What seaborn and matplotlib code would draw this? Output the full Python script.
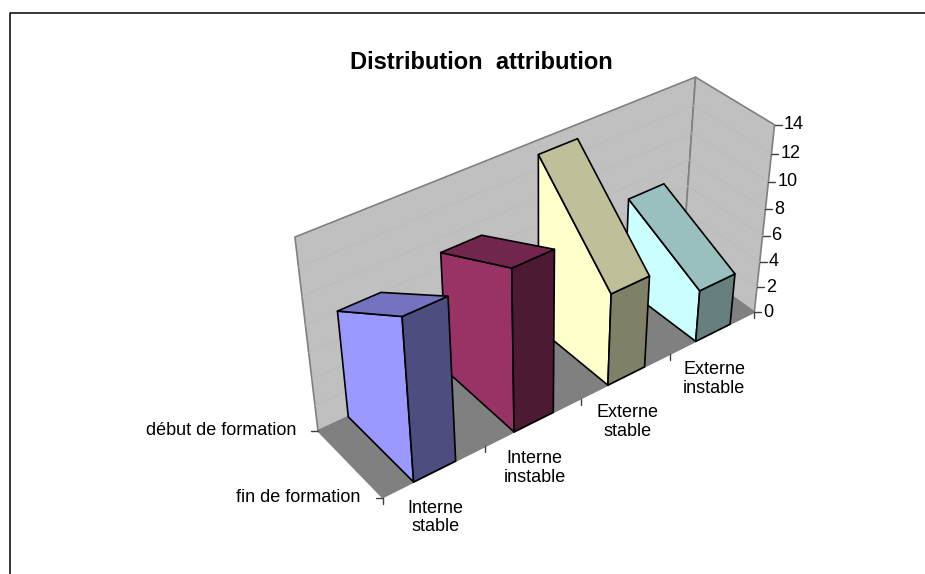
import numpy as np
import matplotlib
matplotlib.use("Agg")
import matplotlib.pyplot as plt
import seaborn as sns

categories = ["Interne\nstable", "Interne\ninstable", "Externe\nstable", "Externe\ninstable"]
depth_labels = ["début de formation", "fin de formation"]
fin_formation = [12, 12, 7, 4]
debut_formation = [8, 9, 13, 7]
value_ticks = [0, 2, 4, 6, 8, 10, 12, 14]
bar_colors = ["#9999FF", "#993366", "#FFFFCC", "#CCFFFF"]

sns.set_theme(style="white")
plt.rcParams['font.family'] = ['Liberation Sans', 'DejaVu Sans']

# camera: corners of the chart box (category, depth, value) and where they land on the picture
box_world = np.array([[0, 1, 0], [0, 0, 0], [4, 0, 0], [4, 1, 0], [0, 1, 14], [4, 1, 14], [4, 0, 14]], float)
box_pixel = np.array([[318, 431], [382.5, 497.5], [754, 312], [683, 261], [295, 237], [695, 77], [775, 125]], float)
rows = []
rhs = []
for (X, Y, Z), (x, y) in zip(box_world, box_pixel):
    rows.append([X, Y, Z, 1, 0, 0, 0, 0, -x * X, -x * Y, -x * Z])
    rhs.append(x)
    rows.append([0, 0, 0, 0, X, Y, Z, 1, -y * X, -y * Y, -y * Z])
    rhs.append(y)
cam = np.append(np.linalg.lstsq(np.array(rows), np.array(rhs), rcond=None)[0], 1).reshape(3, 4)


def proj(X, Y, Z):
    h = cam @ np.array([X, Y, Z, 1.0])
    return h[:2] / h[2]


def face(ax, pts, color, edge, lw=1.2, z=1):
    xy = np.array([proj(*p) for p in pts])
    ax.fill(xy[:, 0], xy[:, 1], facecolor=color, edgecolor=edge, linewidth=lw, joinstyle='round', zorder=z)


fig = plt.figure(figsize=(9.25, 5.74), dpi=100)
ax = fig.add_axes([0, 0, 1, 1])
ax.set_xlim(0, 925)
ax.set_ylim(574, 0)
ax.axis('off')

# chart area border, open on the right and at the bottom
ax.plot([9.5, 9.5, 925], [574, 12.5, 12.5], color='black', lw=1.1)

ax.text(481, 62.5, "Distribution  attribution", fontsize=17, fontweight='bold', ha='center', va='center', color='black')

# walls and floor
face(ax, [(0, 1, 0), (4, 1, 0), (4, 1, 14), (0, 1, 14)], '#C0C0C0', '#808080')
face(ax, [(4, 1, 0), (4, 0, 0), (4, 0, 14), (4, 1, 14)], '#C0C0C0', '#808080')
face(ax, [(0, 1, 0), (0, 0, 0), (4, 0, 0), (4, 1, 0)], '#808080', '#808080')
for v in value_ticks[1:-1]:
    line = np.array([proj(0, 1, v), proj(4, 1, v), proj(4, 0, v)])
    ax.plot(line[:, 0], line[:, 1], color='#BBBBBB', lw=0.6, zorder=1.5)

# value axis
for v in value_ticks:
    p = proj(4, 0, v)
    ax.plot([p[0], p[0] + 7], [p[1], p[1]], color='#404040', lw=1, zorder=2)
    ax.text(p[0] + 9, p[1], str(v), fontsize=13, ha='left', va='center', color='black')

# category axis
for k in range(5):
    p = proj(k, 0, 0)
    ax.plot([p[0], p[0]], [p[1], p[1] + 6], color='#404040', lw=1, zorder=2)
for k, name in enumerate(categories):
    p = proj(k + 0.5, 0, 0)
    ax.text(p[0] + 1, p[1] + 46, name, fontsize=13, ha='center', va='center', linespacing=1.15, color='black')

# depth axis
for d, name in zip([1, 0], depth_labels):
    p = proj(0, d, 0)
    ax.plot([p[0] - 7, p[0]], [p[1], p[1]], color='#404040', lw=1, zorder=2)
    ax.text(p[0] - 22, p[1], name, fontsize=13, ha='right', va='center', color='black')

# sloped columns, far ones first
gap = 0.295
for k in [3, 2, 1, 0]:
    base = np.array(sns.color_palette(bar_colors)[k])
    left = k + gap
    right = k + 1 - gap
    hf = fin_formation[k]
    hb = debut_formation[k]
    z = 3 + (3 - k)
    face(ax, [(left, 1, 0), (left, 0, 0), (left, 0, hf), (left, 1, hb)], base, 'black', z=z)
    face(ax, [(left, 0, 0), (right, 0, 0), (right, 0, hf), (left, 0, hf)], base * 0.5, 'black', z=z)
    face(ax, [(left, 1, hb), (left, 0, hf), (right, 0, hf), (right, 1, hb)], base * 0.75, 'black', z=z)

fig.savefig('out.png', dpi=100)
